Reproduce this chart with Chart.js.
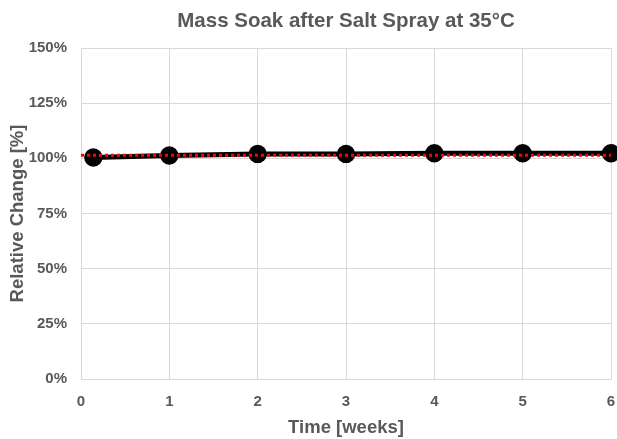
<!DOCTYPE html>
<html>
<head>
<meta charset="utf-8">
<script src="https://cdn.jsdelivr.net/npm/chart.js@4.4.1/dist/chart.umd.min.js"></script>
<style>
  html, body { margin: 0; padding: 0; background: #ffffff; }
  #wrap { width: 617px; height: 439px; position: relative; }
</style>
</head>
<body>
<div id="wrap"><canvas id="c" width="617" height="439"></canvas></div>
<script>
const titleText = "Mass Soak after Salt Spray at 35°C";
const xTitle = "Time [weeks]";
const yTitle = "Relative Change [%]";
const weeks = [0.14, 1, 2, 3, 4, 5, 6];
const massRel = [100.4, 101.3, 102.0, 102.0, 102.3, 102.3, 102.3];
const refX = [0, 6];
const refY = [101.4, 101.4];
const yTicks = [0, 25, 50, 75, 100, 125, 150];
const xTicks = [0, 1, 2, 3, 4, 5, 6];

const gray = '#595959';
const fam = '"Liberation Sans", Arial, sans-serif';

const titlePlugin = {
  id: 'centeredTitle',
  afterDraw(chart) {
    const ctx = chart.ctx;
    const a = chart.chartArea;
    ctx.save();
    ctx.font = 'bold 20.5px ' + fam;
    ctx.fillStyle = gray;
    ctx.textAlign = 'center';
    ctx.textBaseline = 'middle';
    ctx.fillText(titleText, (a.left + a.right) / 2, 21);
    ctx.restore();
  }
};

new Chart(document.getElementById('c'), {
  type: 'scatter',
  data: {
    datasets: [
      {
        data: refX.map((x, i) => ({x: x, y: refY[i]})),
        showLine: true,
        borderColor: '#ff0000',
        borderWidth: 3,
        borderDash: [3, 3],
        pointRadius: 0,
        clip: false
      },
      {
        data: weeks.map((x, i) => ({x: x, y: massRel[i]})),
        showLine: true,
        borderColor: '#000000',
        backgroundColor: '#000000',
        borderWidth: 5,
        pointRadius: 9.2,
        pointBorderWidth: 0,
        pointBackgroundColor: '#000000',
        clip: false
      }
    ]
  },
  options: {
    responsive: false,
    animation: false,
    layout: { autoPadding: false, padding: { top: 48, right: 6, left: 0, bottom: 0 } },
    plugins: { legend: { display: false }, tooltip: { enabled: false }, title: { display: false } },
    scales: {
      x: {
        type: 'linear',
        min: 0, max: 6,
        afterBuildTicks(s) { s.ticks = xTicks.map(v => ({value: v})); },
        afterFit(s) { s.height = 60; s.paddingLeft = 0; s.paddingRight = 0; },
        grid: { color: '#d9d9d9', lineWidth: 1, drawTicks: false },
        border: { color: '#d9d9d9', width: 1 },
        ticks: { color: gray, font: { family: fam, size: 15, weight: 'bold' }, padding: 14 },
        title: { display: true, text: xTitle, color: gray, font: { family: fam, size: 18.5, weight: 'bold' }, padding: { top: 0, bottom: 0 } }
      },
      y: {
        type: 'linear',
        min: 0, max: 150,
        afterBuildTicks(s) { s.ticks = yTicks.map(v => ({value: v})); },
        afterFit(s) { s.width = 81; },
        grid: { color: '#d9d9d9', lineWidth: 1, drawTicks: false },
        border: { color: '#d9d9d9', width: 1 },
        ticks: { color: gray, font: { family: fam, size: 15, weight: 'bold' }, padding: 14, callback: v => v + '%' },
        title: { display: true, text: yTitle, color: gray, font: { family: fam, size: 18.5, weight: 'bold' }, padding: { top: 7, bottom: 0 } }
      }
    }
  },
  plugins: [titlePlugin]
});
</script>
</body>
</html>
